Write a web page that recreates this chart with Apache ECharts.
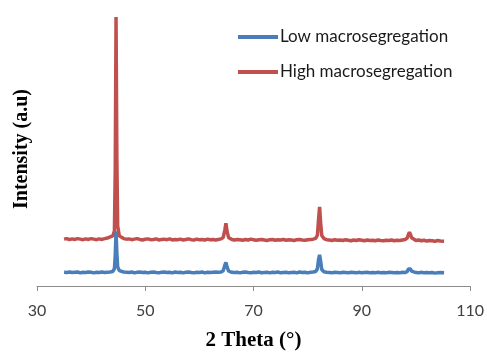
<!DOCTYPE html>
<html>
<head>
<meta charset="utf-8">
<script src="https://cdn.jsdelivr.net/npm/echarts@6/dist/echarts.min.js"></script>
<style>
html,body{margin:0;padding:0;background:#fff;}
#chart{width:487px;height:356px;}
</style>
</head>
<body>
<div id="chart"></div>
<script>
// 2-theta positions (degrees)
var twoTheta = [
  35,35.5,36,36.5,37,37.5,38,38.5,39,39.5,40,40.5,41,41.5,42,42.5,43,43.5,44,
  44.3,44.45,44.6,44.75,44.9,45.2,
  45.5,46,46.5,47,47.5,48,48.5,49,49.5,50,50.5,51,51.5,52,52.5,53,53.5,54,54.5,55,55.5,56,56.5,57,57.5,58,58.5,59,59.5,60,60.5,61,61.5,62,62.5,63,63.5,
  64,64.4,64.7,64.9,65.1,65.4,
  66,66.5,67,67.5,68,68.5,69,69.5,70,70.5,71,71.5,72,72.5,73,73.5,74,74.5,75,75.5,76,76.5,77,77.5,78,78.5,79,79.5,80,80.5,81,
  81.5,81.8,82,82.2,82.4,82.6,
  83,83.5,84,84.5,85,85.5,86,86.5,87,87.5,88,88.5,89,89.5,90,90.5,91,91.5,92,92.5,93,93.5,94,94.5,95,95.5,96,96.5,97,97.5,
  98,98.4,98.6,98.8,99,99.2,
  99.5,100,100.5,101,101.5,102,102.5,103,103.5,104,104.5,105.2
];
// High macrosegregation intensity (offset pattern, a.u.)
var highIntensity = [
  17.1,17.3,16.9,17.2,17.0,17.3,17.1,16.9,17.2,17.0,17.3,17.1,16.9,17.2,17.0,17.3,17.5,17.9,18.3,
  20.0,42.0,98.2,47.0,22.0,18.3,
  17.6,17.3,17.1,17.2,16.9,17.1,17.3,17.0,16.8,17.1,17.2,16.9,17.0,17.2,16.8,17.0,17.1,16.9,17.2,16.8,17.0,16.9,17.1,16.8,17.0,17.2,16.9,16.8,17.1,16.9,17.0,16.8,17.1,16.9,17.0,16.8,17.0,
  17.2,17.7,20.5,22.9,20.0,17.6,
  17.0,16.8,17.0,16.9,16.7,17.0,16.8,17.1,16.9,16.7,16.9,17.0,16.8,16.6,16.9,17.0,16.7,16.9,16.8,17.0,16.7,16.9,16.8,16.6,16.9,17.0,16.8,16.7,16.9,17.0,17.1,
  17.4,18.6,24.0,28.9,23.0,18.4,
  17.3,16.9,16.8,16.6,16.9,16.7,16.8,16.6,16.9,16.7,16.5,16.8,16.6,16.9,16.7,16.5,16.8,16.6,16.7,16.5,16.8,16.6,16.5,16.7,16.6,16.8,16.5,16.7,16.6,16.8,
  17.0,17.5,18.8,19.6,18.8,17.6,
  16.9,16.6,16.8,16.5,16.7,16.4,16.6,16.5,16.3,16.6,16.4,16.3
];
// Low macrosegregation intensity (a.u.)
var lowIntensity = [
  5.0,4.9,5.1,4.9,5.0,5.1,4.8,5.0,4.9,5.1,5.0,4.8,5.0,4.9,5.1,4.9,5.0,5.1,5.3,
  6.3,11.0,20.0,12.0,7.0,5.6,
  5.3,5.1,5.0,4.9,5.1,4.8,5.0,5.1,4.9,5.0,4.8,5.0,5.1,4.9,4.8,5.0,5.1,4.9,5.0,4.8,5.1,4.9,5.0,4.8,5.0,5.1,4.9,4.8,5.0,4.9,5.1,4.8,5.0,4.9,5.0,5.1,5.0,
  5.1,5.6,7.6,8.6,7.0,5.4,
  5.0,4.9,5.0,4.8,5.0,5.1,4.9,4.8,5.0,4.9,5.1,4.8,4.9,5.0,4.8,5.0,4.9,5.1,4.8,4.9,5.0,4.8,4.9,5.0,4.8,5.1,4.9,5.0,4.8,5.0,5.1,
  5.3,6.3,9.6,11.4,9.0,6.0,
  5.2,5.0,4.9,4.8,5.0,4.9,4.8,5.0,4.9,4.8,5.0,4.9,4.8,5.0,4.8,4.9,5.0,4.8,4.9,4.8,5.0,4.8,4.9,4.8,5.0,4.9,4.8,4.9,4.8,5.0,
  4.9,5.3,6.2,6.8,6.2,5.4,
  5.0,4.9,4.8,5.0,4.8,4.9,4.8,4.9,4.7,4.8,4.9,4.8
];
var seriesNames = ['Low macrosegregation', 'High macrosegregation'];
var xTicks = [30, 50, 70, 90, 110];

function pairs(xs, ys) {
  var out = [];
  for (var i = 0; i < xs.length; i++) out.push([xs[i], ys[i]]);
  return out;
}

var chart = echarts.init(document.getElementById('chart'), null, {renderer: 'canvas'});
chart.setOption({
  animation: false,
  backgroundColor: '#ffffff',
  grid: {left: 37, right: 14, top: 12, bottom: 64, containLabel: false},
  legend: {
    data: seriesNames,
    orient: 'vertical',
    left: 233,
    top: 23,
    icon: 'rect',
    itemWidth: 40,
    itemHeight: 4,
    itemGap: 17,
    textStyle: {fontFamily: 'Lato', fontSize: 17, color: '#1a1a1a', lineHeight: 18, padding: [0, 0, 0, -3]}
  },
  xAxis: {
    type: 'value',
    min: xTicks[0],
    max: xTicks[xTicks.length - 1],
    interval: 20,
    name: '2 Theta (°)',
    nameLocation: 'middle',
    nameGap: 44,
    nameTextStyle: {fontFamily: 'Liberation Serif', fontWeight: 'bold', fontSize: 21, color: '#000'},
    axisLine: {lineStyle: {color: '#8c8c8c', width: 1}},
    axisTick: {show: true, inside: false, length: 5, lineStyle: {color: '#8c8c8c'}},
    axisLabel: {fontFamily: 'Lato', fontSize: 16, color: '#404040', margin: 17},
    splitLine: {show: false}
  },
  yAxis: {
    type: 'value',
    min: 0,
    max: 100,
    name: 'Intensity (a.u)',
    nameLocation: 'middle',
    nameGap: 5,
    nameTextStyle: {fontFamily: 'Liberation Serif', fontWeight: 'bold', fontSize: 20, color: '#000'},
    axisLine: {show: false},
    axisTick: {show: false},
    axisLabel: {show: false},
    splitLine: {show: false}
  },
  series: [
    {
      name: seriesNames[1],
      type: 'line',
      data: pairs(twoTheta, highIntensity),
      showSymbol: false,
      smooth: false,
      lineStyle: {color: '#C0504D', width: 3.5},
      itemStyle: {color: '#C0504D'},
      z: 2
    },
    {
      name: seriesNames[0],
      type: 'line',
      data: pairs(twoTheta, lowIntensity),
      showSymbol: false,
      smooth: false,
      lineStyle: {color: '#4A7EBB', width: 3.5},
      itemStyle: {color: '#4A7EBB'},
      z: 3
    }
  ]
});
</script>
</body>
</html>
